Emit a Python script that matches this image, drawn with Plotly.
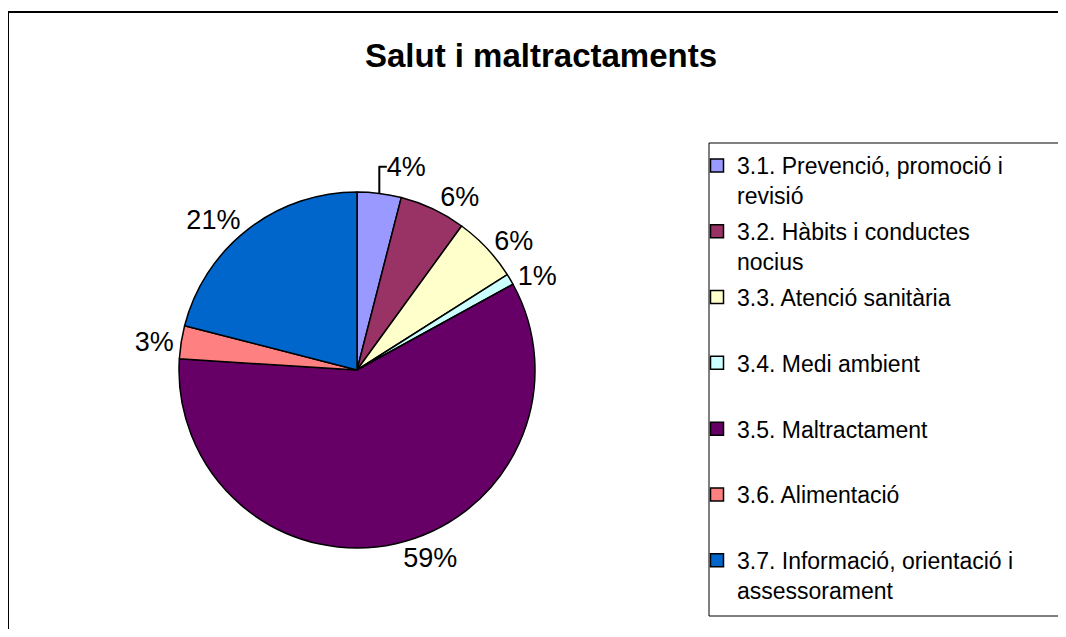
import plotly.graph_objects as go

title = "Salut i maltractaments"
categories = [
    "3.1. Prevenció, promoció i<br>revisió",
    "3.2. Hàbits i conductes<br>nocius",
    "3.3. Atenció sanitària",
    "3.4. Medi ambient",
    "3.5. Maltractament",
    "3.6. Alimentació",
    "3.7. Informació, orientació i<br>assessorament",
]
values = [4, 6, 6, 1, 59, 3, 21]
colors = ["#9999FF", "#993366", "#FFFFCC", "#CCFFFF", "#660066", "#FF8080", "#0066CC"]

FONT = "Liberation Sans, Arial, sans-serif"
# page is rendered with an 8px body margin; figure sized to fit the window
OFF = 8
W, H = 1066 - 2 * OFF, 637 - 2 * OFF


def px(xp):
    return (xp - OFF) / W


def py(yp):
    return 1 - (yp - OFF) / H


fig = go.Figure()

cx, cy, r = 357, 370, 178
fig.add_trace(go.Pie(
    labels=[c.replace("<br>", " ") for c in categories],
    values=values,
    sort=False,
    direction="clockwise",
    rotation=0,
    marker=dict(colors=colors, line=dict(color="black", width=1.5)),
    textposition="outside",
    texttemplate="%{percent:.0%}",
    textfont=dict(family=FONT, size=27, color="black"),
    showlegend=False,
    hoverinfo="label+percent",
    domain=dict(x=[px(cx - r), px(cx + r)], y=[py(cy + r), py(cy - r)]),
))

# legend entries (one per category), padded to two lines each
for i, (cat, col) in enumerate(zip(categories, colors)):
    name = cat if "<br>" in cat else cat + "<br> "
    fig.add_trace(go.Scatter(
        x=[None], y=[None], mode="markers", name=name,
        legendgroup=f"g{i}",
        marker=dict(symbol="square", size=13, color=col, line=dict(color="black", width=1.5)),
        hoverinfo="skip",
    ))

leg_left, leg_top, leg_bottom = 709, 143, 616
fig.update_layout(
    width=W, height=H, autosize=False,
    margin=dict(l=0, r=0, t=0, b=0, autoexpand=False),
    paper_bgcolor="white", plot_bgcolor="white",
    font=dict(family=FONT, color="black"),
    xaxis=dict(visible=False), yaxis=dict(visible=False),
    title=dict(text="<b>" + title + "</b>", x=px(541), xanchor="center",
               y=py(55), yanchor="middle",
               font=dict(family=FONT, size=33, color="black")),
    legend=dict(
        x=px(leg_left - 12), xanchor="left",
        y=py(leg_top + 1), yanchor="top",
        font=dict(family=FONT, size=23, color="black"),
        bgcolor="rgba(0,0,0,0)", borderwidth=0,
        valign="top", tracegroupgap=3, itemclick=False,
    ),
    shapes=[
        dict(type="rect", xref="paper", yref="paper",
             x0=px(8), x1=1.05, y0=-0.05, y1=py(12),
             line=dict(color="black", width=2), layer="below"),
        dict(type="rect", xref="paper", yref="paper",
             x0=px(leg_left), x1=1.05, y0=py(leg_bottom), y1=py(leg_top),
             line=dict(color="black", width=1), layer="below"),
    ],
)

fig.write_html("out.html")
